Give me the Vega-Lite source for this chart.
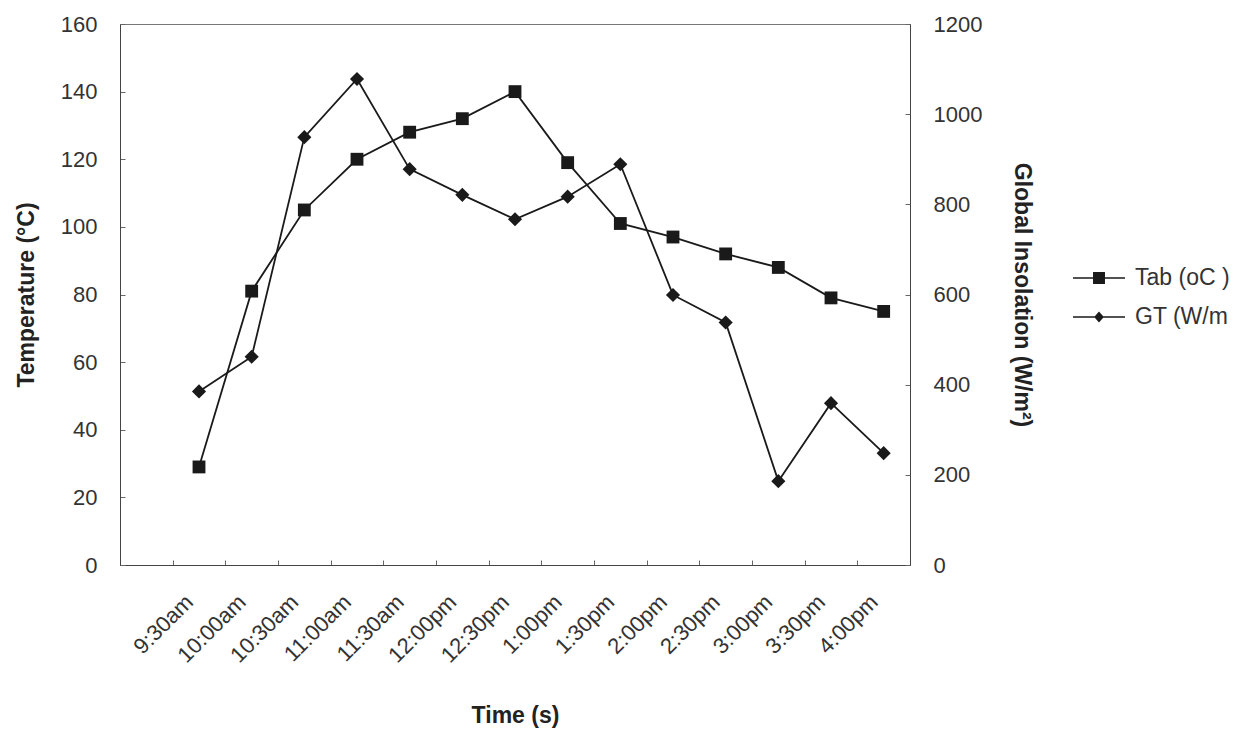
{
  "$schema": "https://vega.github.io/schema/vega-lite/v6.json",
  "width": 790,
  "height": 541,
  "autosize": {"type": "none"},
  "padding": {"left": 120, "top": 24, "right": 332, "bottom": 166},
  "background": "white",
  "config": {
    "font": "Liberation Sans",
    "view": {"stroke": "#777", "strokeWidth": 1},
    "axis": {
      "grid": false,
      "domainColor": "#444",
      "tickColor": "#666",
      "tickSize": -5,
      "labelFont": "Liberation Sans",
      "labelFontSize": 22,
      "labelColor": "#333",
      "titleFont": "Liberation Sans",
      "titleFontSize": 23,
      "titleFontWeight": "bold",
      "titleColor": "#222"
    }
  },
  "datasets": {
    "main": [
      {"time": "9:30am", "tab": 29, "gt": 385},
      {"time": "10:00am", "tab": 81, "gt": 462},
      {"time": "10:30am", "tab": 105, "gt": 949},
      {"time": "11:00am", "tab": 120, "gt": 1078},
      {"time": "11:30am", "tab": 128, "gt": 878},
      {"time": "12:00pm", "tab": 132, "gt": 821},
      {"time": "12:30pm", "tab": 140, "gt": 767},
      {"time": "1:00pm", "tab": 119, "gt": 817},
      {"time": "1:30pm", "tab": 101, "gt": 889},
      {"time": "2:00pm", "tab": 97, "gt": 599},
      {"time": "2:30pm", "tab": 92, "gt": 538},
      {"time": "3:00pm", "tab": 88, "gt": 186},
      {"time": "3:30pm", "tab": 79, "gt": 359},
      {"time": "4:00pm", "tab": 75, "gt": 248}
    ],
    "series": [
      {"series": "Tab (oC )"},
      {"series": "GT (W/m"}
    ]
  },
  "data": {"name": "main"},
  "encoding": {
    "x": {
      "field": "time",
      "type": "nominal",
      "bandPosition": 0.5,
      "scale": {
        "type": "band",
        "domain": [" ", "9:30am", "10:00am", "10:30am", "11:00am", "11:30am", "12:00pm", "12:30pm", "1:00pm", "1:30pm", "2:00pm", "2:30pm", "3:00pm", "3:30pm", "4:00pm"],
        "paddingInner": 0,
        "paddingOuter": 0
      },
      "axis": {
        "title": "Time (s)",
        "tickBand": "extent",
        "labelAngle": -45,
        "labelAlign": "right",
        "labelBaseline": "middle",
        "labelPadding": 38,
        "labelOffset": -10,
        "titlePadding": 38
      }
    }
  },
  "layer": [
    {
      "encoding": {
        "y": {
          "field": "tab",
          "type": "quantitative",
          "scale": {"domain": [0, 160], "nice": false},
          "axis": {
            "orient": "left",
            "title": "Temperature (°C)",
            "values": [0, 20, 40, 60, 80, 100, 120, 140, 160],
            "labelPadding": 28,
            "titlePadding": 22
          }
        }
      },
      "layer": [
        {"mark": {"type": "line", "color": "#1a1a1a", "strokeWidth": 1.8}},
        {"mark": {"type": "point", "shape": "square", "filled": true, "color": "#1a1a1a", "size": 165, "opacity": 1}}
      ]
    },
    {
      "encoding": {
        "y": {
          "field": "gt",
          "type": "quantitative",
          "scale": {"domain": [0, 1200], "nice": false},
          "axis": {
            "orient": "right",
            "title": "Global Insolation (W/m²)",
            "values": [0, 200, 400, 600, 800, 1000, 1200],
            "format": "d",
            "labelPadding": 28,
            "titlePadding": 28
          }
        }
      },
      "layer": [
        {"mark": {"type": "line", "color": "#1a1a1a", "strokeWidth": 1.8}},
        {"mark": {"type": "point", "shape": "diamond", "filled": true, "color": "#1a1a1a", "size": 200, "opacity": 1}},
        {
          "data": {"name": "series"},
          "transform": [{"filter": "datum.series == 'none'"}],
          "mark": {"type": "point", "filled": true, "color": "#1a1a1a", "opacity": 1},
          "encoding": {
            "x": null,
            "shape": {
              "field": "series",
              "type": "nominal",
              "scale": {
                "domain": ["Tab (oC )", "GT (W/m"],
                "range": [
                  "M-2,-0.06L-0.46,-0.06L-0.46,-0.46L0.46,-0.46L0.46,-0.06L2,-0.06L2,0.06L0.46,0.06L0.46,0.46L-0.46,0.46L-0.46,0.06L-2,0.06Z",
                  "M-2,-0.06L-0.32,-0.06L0,-0.42L0.32,-0.06L2,-0.06L2,0.06L0.32,0.06L0,0.42L-0.32,0.06L-2,0.06Z"
                ]
              },
              "legend": {
                "title": null,
                "orient": "none",
                "legendX": 966,
                "legendY": 241,
                "padding": 0,
                "symbolSize": 676,
                "symbolFillColor": "#1a1a1a",
                "symbolStrokeWidth": 0,
                "symbolOpacity": 1,
                "labelOffset": 23,
                "labelFont": "Liberation Sans",
                "labelFontSize": 23,
                "labelColor": "#333",
                "labelLimit": 0,
                "rowPadding": 14
              }
            }
          }
        }
      ]
    }
  ],
  "resolve": {"scale": {"y": "independent"}}
}
